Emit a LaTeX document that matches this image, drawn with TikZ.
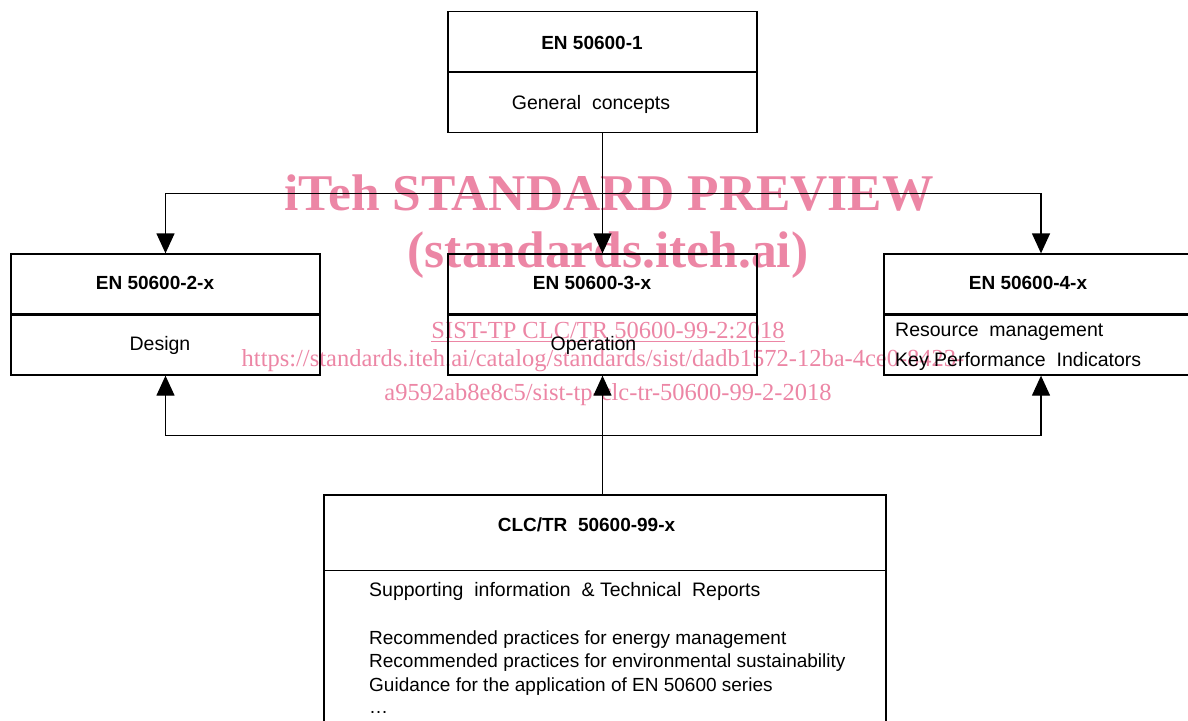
\documentclass[tikz,border=0pt]{standalone}
\usepackage{fontspec}
\setmainfont{Liberation Sans}
\newfontfamily\wmfont{Liberation Serif}
\usetikzlibrary{arrows.meta}
\definecolor{wm}{RGB}{236,134,165}
\begin{document}
\begin{tikzpicture}[x=1pt,y=-1pt,
  box/.style={draw, line width=1.3pt, minimum width=309pt, minimum height=121pt, inner sep=0pt},
  thin/.style={line width=1.3pt},
  thick/.style={line width=2.4pt},
  ttl/.style={font=\fontsize{19}{23}\selectfont\bfseries, anchor=base, inner sep=0pt},
  txt/.style={font=\fontsize{19.5}{24}\selectfont, anchor=base, inner sep=0pt},
  ltxt/.style={font=\fontsize{19.5}{24}\selectfont, anchor=base west, inner sep=0pt},
  stxt/.style={font=\fontsize{19}{24}\selectfont, anchor=base west, inner sep=0pt},
  arr/.style={line width=1.3pt, -{Triangle[width=18pt,length=20pt]}},
  wmA/.style={text=wm, font=\wmfont\bfseries\fontsize{51.5}{55}\selectfont, inner sep=0pt},
  wmB/.style={text=wm, font=\wmfont\fontsize{24.5}{28}\selectfont, inner sep=0pt}]
\useasboundingbox (0,0) rectangle (1188,720);

% watermark
\node[wmA] (wm1) at (609,193) {iTeh STANDARD PREVIEW};
\node[wmA] (wm2) at (608,255) {(standards.iteh.ai)};
\node[wmB] (wm3) at (608,332) {\underline{SIST-TP CLC/TR 50600-99-2:2018}};
\node[wmB] (wm4) at (603,361) {https://standards.iteh.ai/catalog/standards/sist/dadb1572-12ba-4ce0-8423-};
\node[wmB] (wm5) at (608,395) {a9592ab8e8c5/sist-tp-clc-tr-50600-99-2-2018};

% top box
\node[box] (top) at (602.5,72) {};
\draw[thin] (top.west) -- (top.east);
\node[ttl] (topT) at (592,49) {EN 50600-1};
\node[txt] (topB) at (591,109) {General\ \ concepts};

% left box
\node[box] (left) at (165.5,314.5) {};
\draw[thick] (left.west) -- (left.east);
\node[ttl] (leftT) at (155,289) {EN 50600-2-x};
\node[txt] (leftB) at (160,350) {Design};

% middle box
\node[box] (mid) at (602.5,314.5) {};
\draw[thick] (mid.west) -- (mid.east);
\node[ttl] (midT) at (592,289) {EN 50600-3-x};
\node[txt] (midB) at (593.5,350) {Operation};

% right box
\node[box, minimum width=314pt] (right) at (1041,314.5) {};
\draw[thick] (right.west) -- (right.east);
\node[ttl] (rightT) at (1028,289) {EN 50600-4-x};
\node[ltxt] (rightB1) at (895,336) {Resource\ \ management};
\node[ltxt] (rightB2) at (895,366) {Key Performance\ \ Indicators};

% bottom box
\node[box, minimum width=562pt, minimum height=240pt] (bot) at (605,615) {};
\draw[thin] ([yshift=-76pt]bot.north west) -- ([yshift=-76pt]bot.north east);
\node[ttl] (botT) at (586.5,531) {CLC/TR\ \ 50600-99-x};
\node[ltxt] (botL1) at (369,596) {Supporting\ \ information\ \ \& Technical\ \ Reports};
\node[stxt] (botL2) at (369,644) {Recommended practices for energy management};
\node[stxt] (botL3) at (369,667) {Recommended practices for environmental sustainability};
\node[stxt] (botL4) at (369,691) {Guidance for the application of EN 50600 series};
\node[stxt] (botL5) at (369,713) {\ldots};

% connectors from top
\coordinate (bl) at ([yshift=60pt]left.north);
\coordinate (br) at ([yshift=60pt]right.north);
\draw[thin] (bl) -- (br);
\draw[arr] (top.south) -- (mid.north);
\draw[arr] (bl) -- (left.north);
\draw[arr] (br) -- (right.north);

% connectors from bottom
\coordinate (bl2) at ([yshift=-60pt]left.south);
\coordinate (br2) at ([yshift=-60pt]right.south);
\draw[thin] (bl2) -- (br2);
\draw[arr] (bot.north -| mid.south) -- (mid.south);
\draw[arr] (bl2) -- (left.south);
\draw[arr] (br2) -- (right.south);
\end{tikzpicture}
\end{document}
